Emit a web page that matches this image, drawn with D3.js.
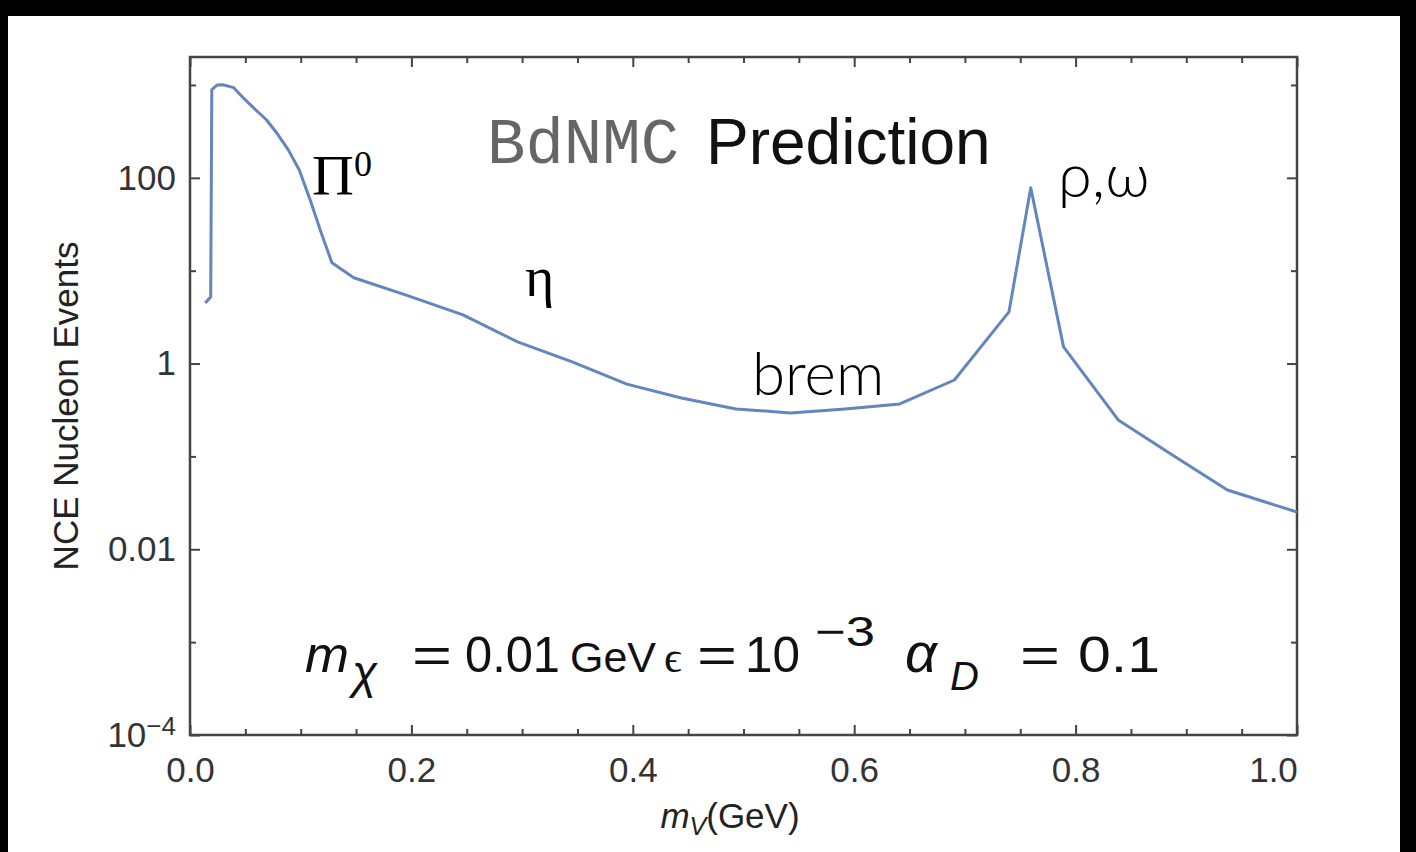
<!DOCTYPE html>
<meta charset="utf-8">
<style>
    body { margin: 0; background: #000; }
    svg { display: block; }
    .axis .domain { display: none; }
    .axis line { stroke: #444; stroke-width: 2; }
    .axis text { font-family: "Liberation Sans", Helvetica, Arial, sans-serif; font-size: 35px; fill: #333; }
    .formula { font-family: "Liberation Sans", Helvetica, Arial, sans-serif; fill: #111; }
</style>
<svg width="1416" height="852"></svg>
<script src="https://d3js.org/d3.v7.min.js"></script>
<script>

    // values
    var mV = [0.0138, 0.0187, 0.0197, 0.0247, 0.0296, 0.0395, 0.0493, 0.0592, 0.069, 0.0789, 0.0888, 0.0986, 0.1085, 0.1183, 0.1282,
              0.148, 0.1973, 0.2466, 0.2959, 0.3453, 0.3946, 0.4439, 0.4932, 0.5425, 0.5919, 0.6412, 0.6905, 0.7398, 0.7595,
              0.7891, 0.8385, 0.8878, 0.9371, 1.0];
    var events = [4.5, 5.2, 890, 1000, 1005, 935, 703, 541, 422, 298, 200, 122, 58, 26, 12.2,
                  8.4, 5.35, 3.34, 1.71, 1.04, 0.6, 0.426, 0.324, 0.294, 0.324, 0.367, 0.665, 3.6, 78,
                  1.51, 0.247, 0.103, 0.0435, 0.0252];

    var xMajor = [0, 0.2, 0.4, 0.6, 0.8, 1.0];
    var xMinor = [0.05, 0.1, 0.15, 0.25, 0.3, 0.35, 0.45, 0.5, 0.55, 0.65, 0.7, 0.75, 0.85, 0.9, 0.95];
    var yMajor = [1e-4, 1e-2, 1, 100];
    var yMinor = [1e-3, 0.1, 10, 1000];
    var yLabels = {"0.0001": "10|-4", "0.01": "0.01", "1": "1", "100": "100"};

    var svg = d3.select("svg"),
        margin = {top: 57, right: 119, bottom: 117, left: 190},
        width = +svg.attr("width") - margin.left - margin.right,
        height = +svg.attr("height") - margin.top - margin.bottom;

    // white sheet inside the black border
    svg.append("rect").attr("x", 8).attr("y", 16).attr("width", 1392).attr("height", 836).attr("fill", "#fff");

    var g = svg.append("g").attr("transform", "translate(" + margin.left + "," + margin.top + ")");

    var x = d3.scaleLinear().domain([0, 1]).range([0, width]);
    var y = d3.scaleLog().domain([1e-4, 2000]).range([height, 0]);

    // ticks on all four sides, pointing inward
    var xAx = g.append("g").attr("class", "axis")
        .attr("transform", "translate(0," + height + ")")
        .call(d3.axisBottom(x).tickValues(xMajor).tickSize(-10).tickPadding(22).tickFormat(d3.format(".1f")));
    xAx.selectAll(".tick text").filter(function(d) { return d === 1; }).attr("dx", -24);
    g.append("g").attr("class", "axis")
        .attr("transform", "translate(0," + height + ")")
        .call(d3.axisBottom(x).tickValues(xMinor).tickSize(-6).tickFormat(""));
    g.append("g").attr("class", "axis")
        .call(d3.axisTop(x).tickValues(xMajor).tickSize(-10).tickFormat(""));
    g.append("g").attr("class", "axis")
        .call(d3.axisTop(x).tickValues(xMinor).tickSize(-6).tickFormat(""));

    var yAx = g.append("g").attr("class", "axis")
        .call(d3.axisLeft(y).tickValues(yMajor).tickSize(-10).tickPadding(14).tickFormat(function() { return ""; }));
    yAx.selectAll(".tick text").each(function(d) {
        var t = d3.select(this), parts = yLabels[String(d)].split("|");
        t.append("tspan").text(parts[0]);
        if (parts[1]) t.append("tspan").attr("dy", "-0.45em").attr("font-size", "26px").text(parts[1].replace("-", "\u2212"));
    });
    g.append("g").attr("class", "axis")
        .call(d3.axisLeft(y).tickValues(yMinor).tickSize(-6).tickFormat(""));
    g.append("g").attr("class", "axis")
        .attr("transform", "translate(" + width + ",0)")
        .call(d3.axisRight(y).tickValues(yMajor).tickSize(-10).tickFormat(""));
    g.append("g").attr("class", "axis")
        .attr("transform", "translate(" + width + ",0)")
        .call(d3.axisRight(y).tickValues(yMinor).tickSize(-6).tickFormat(""));

    g.append("rect")
        .attr("width", width).attr("height", height)
        .attr("fill", "none").attr("stroke", "#444").attr("stroke-width", 2.5);

    var line = d3.line()
        .x(function(d, i) { return x(mV[i]); })
        .y(function(d) { return y(d); });

    g.append("path")
        .datum(events)
        .attr("fill", "none")
        .attr("stroke", "#6286BE")
        .attr("stroke-width", 3)
        .attr("stroke-linejoin", "round")
        .attr("d", line);

    // title
    svg.append("text")
        .attr("x", 487).attr("y", 163)
        .style("font-family", "'Liberation Mono', 'Courier New', monospace")
        .style("font-size", "64px").style("fill", "#666")
        .text("BdNMC");
    svg.append("text")
        .attr("x", 706).attr("y", 164)
        .style("font-family", "'Liberation Sans', Helvetica, Arial, sans-serif")
        .style("font-size", "64px").style("fill", "#111")
        .text("Prediction");

    // resonance labels
    var pi0 = svg.append("text").attr("x", 312).attr("y", 195)
        .style("font-family", "'Liberation Serif', 'Times New Roman', serif").style("font-size", "58px").style("fill", "#000");
    pi0.append("tspan").text("\u03A0");
    pi0.append("tspan").attr("dy", -19).style("font-size", "36px").text("0");

    svg.append("text").attr("x", 525).attr("y", 296)
        .style("font-family", "'Liberation Serif', 'Times New Roman', serif").style("font-size", "56px").style("fill", "#000")
        .text("\u03B7");

    svg.append("text").attr("x", 752).attr("y", 395)
        .style("font-family", "Lato, 'Open Sans', sans-serif").style("font-weight", 300).style("font-size", "60px").style("fill", "#000")
        .text("brem");

    svg.append("text").attr("x", 1058).attr("y", 197)
        .style("font-family", "Lato, 'Open Sans', sans-serif").style("font-weight", 300).style("font-size", "61px").style("fill", "#000")
        .text("\u03C1,\u03C9");

    // parameter line: [text, x, width (0 = natural), baseline, size, italic]
    var pieces = [
        ["m", 305, 44, 672, 50, true],
        ["\u03C7", 352, 0, 688, 46, true],
        ["=", 412, 40, 672, 50, false],
        ["0.01", 465, 95, 672, 50, false],
        ["GeV", 570, 0, 672, 43, false],
        ["\u03F5", 664, 0, 672, 44, false],
        ["=", 697, 40, 672, 50, false],
        ["10", 745, 55, 672, 50, false],
        ["\u22123", 815, 60, 646, 42, false],
        ["\u03B1", 905, 0, 672, 56, true],
        ["D", 950, 0, 690, 40, true],
        ["=", 1020, 40, 672, 50, false],
        ["0.1", 1078, 82, 672, 50, false]
    ];
    svg.append("g").selectAll("text")
        .data(pieces)
        .enter().append("text")
        .attr("class", "formula")
        .attr("x", function(d) { return d[1]; })
        .attr("y", function(d) { return d[3]; })
        .attr("textLength", function(d) { return d[2] || null; })
        .attr("lengthAdjust", function(d) { return d[2] ? "spacingAndGlyphs" : null; })
        .style("font-size", function(d) { return d[4] + "px"; })
        .style("font-style", function(d) { return d[5] ? "italic" : "normal"; })
        .style("font-family", function(d) { return d[0] === "\u03F5" ? "'Liberation Serif', serif" : null; })
        .text(function(d) { return d[0]; });

    // axis titles
    svg.append("text")
        .attr("transform", "translate(78," + (margin.top + height / 2 + 10) + ") rotate(-90)")
        .attr("text-anchor", "middle")
        .style("font-family", "'Liberation Sans', Helvetica, Arial, sans-serif").style("font-size", "35px").style("fill", "#222")
        .text("NCE Nucleon Events");

    var xl = svg.append("text")
        .attr("x", 730).attr("y", 828)
        .attr("text-anchor", "middle")
        .style("font-family", "'Liberation Sans', Helvetica, Arial, sans-serif").style("font-size", "35px").style("fill", "#222");
    xl.append("tspan").style("font-style", "italic").text("m");
    xl.append("tspan").attr("dy", 7).style("font-style", "italic").style("font-size", "25px").text("V");
    xl.append("tspan").attr("dy", -7).text("(GeV)");

</script>
